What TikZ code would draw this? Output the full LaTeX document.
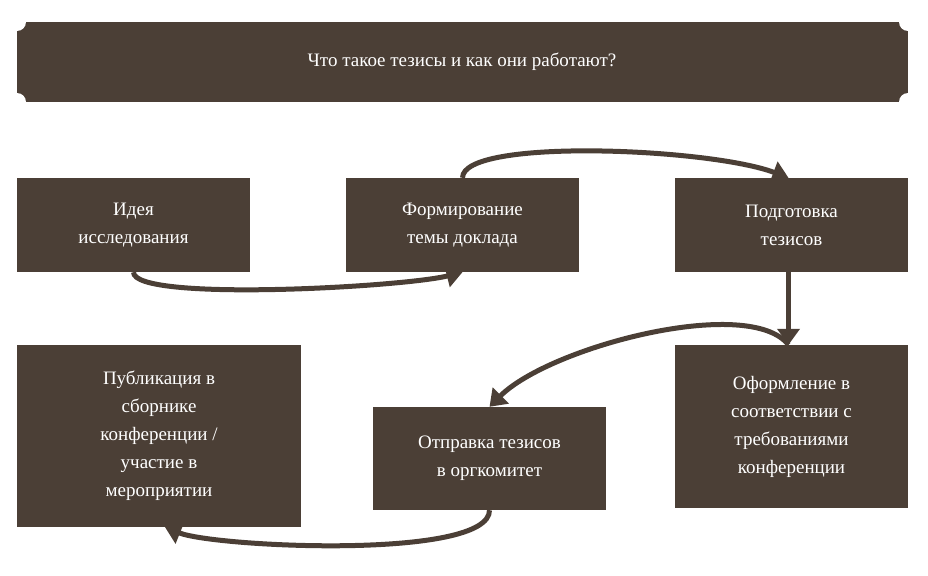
\documentclass[tikz,border=0pt]{standalone}
\usepackage{fontspec}
\setmainfont{Liberation Serif}
\usetikzlibrary{arrows.meta}
\definecolor{br}{HTML}{4B3F36}
\begin{document}
\begin{tikzpicture}[x=1pt,y=-1pt,
  box/.style={fill=br,text=white,inner sep=0pt,align=center,font=\fontsize{19}{28}\selectfont},
  arr/.style={draw=br,line width=5pt,-{Triangle[length=16pt,width=22pt]}}]
\useasboundingbox (0,0) rectangle (928,575);
\fill[br] (17,22) rectangle (908,102);
\foreach \p in {(17,22),(908,22),(17,102),(908,102)} \fill[white] \p circle (9);
\node[text=white,font=\fontsize{19}{24}\selectfont] (t) at (462,62) {Что такое тезисы и как они работают?};
\node[box,minimum width=233,minimum height=94] (b1) at (133.5,225) {Идея\\исследования};
\node[box,minimum width=233,minimum height=94] (b2) at (462.5,225) {Формирование\\темы доклада};
\node[box,minimum width=233,minimum height=94] (b3) at (791.5,225) {Подготовка\\тезисов};
\node[box,minimum width=233,minimum height=163] (b4) at (791.5,426.5) {Оформление в\\соответствии с\\требованиями\\конференции};
\node[box,minimum width=233,minimum height=103] (b5) at (489.5,458.5) {Отправка тезисов\\в оргкомитет};
\node[box,minimum width=284,minimum height=182] (b6) at (159,436) {Публикация в\\сборнике\\конференции /\\участие в\\мероприятии};
\draw[arr] ([xshift=0pt]b1.south) ++(0,0) .. controls +(0,30) and +(-60,15) .. ([xshift=0pt]b2.south);
\draw[arr] ([xshift=0pt]b2.north) .. controls +(0,-40) and +(-80,-30) .. ([xshift=-3pt]b3.north);
\draw[arr] ([xshift=-3pt]b3.south) -- ([xshift=-3pt]b4.north);
\draw[arr] ([xshift=-3pt]b4.north) .. controls +(-40,-50) and +(60,-60) .. ([xshift=0pt]b5.north);
\draw[arr] (b5.south) .. controls +(0,50) and +(50,20) .. ([xshift=6pt]b6.south);
\end{tikzpicture}
\end{document}
